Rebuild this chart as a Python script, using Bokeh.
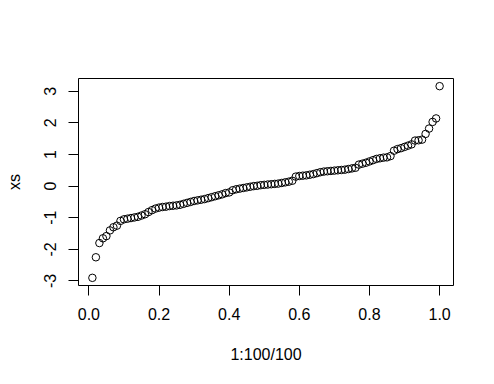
from bokeh.plotting import figure
from bokeh.models import Range1d, FixedTicker
from bokeh.embed import file_html
from bokeh.resources import INLINE

n = list(range(1, 101))
x_vals = [i / 100 for i in n]
xs = [-2.90, -2.25, -1.80, -1.65, -1.58, -1.40, -1.30, -1.25, -1.10, -1.05,
      -1.03, -1.01, -0.99, -0.97, -0.93, -0.89, -0.82, -0.76, -0.71, -0.68,
      -0.66, -0.65, -0.63, -0.62, -0.61, -0.59, -0.56, -0.53, -0.50, -0.47,
      -0.45, -0.43, -0.41, -0.38, -0.35, -0.32, -0.29, -0.26, -0.22, -0.20,
      -0.13, -0.10, -0.08, -0.06, -0.04, -0.02, 0.00, 0.01, 0.03, 0.04,
      0.05, 0.06, 0.07, 0.08, 0.10, 0.12, 0.14, 0.17, 0.30, 0.32,
      0.33, 0.34, 0.36, 0.38, 0.41, 0.44, 0.46, 0.47, 0.48, 0.49,
      0.50, 0.51, 0.52, 0.54, 0.56, 0.58, 0.68, 0.71, 0.74, 0.78,
      0.82, 0.86, 0.88, 0.90, 0.91, 0.95, 1.12, 1.17, 1.20, 1.24,
      1.28, 1.32, 1.44, 1.45, 1.47, 1.65, 1.82, 2.03, 2.14, 3.16]
x_ticks = [0.0, 0.2, 0.4, 0.6, 0.8, 1.0]
y_ticks = [-3, -2, -1, 0, 1, 2, 3]

def r_range(v):
    lo, hi = min(v), max(v)
    d = hi - lo
    return lo - 0.04 * d, hi + 0.04 * d

xr = r_range(x_vals)
yr = r_range(xs)

p = figure(width=478, height=368, output_backend="svg", toolbar_location=None,
           x_range=Range1d(*xr), y_range=Range1d(*yr),
           min_border_left=78, min_border_right=25, min_border_top=78, min_border_bottom=83)
p.background_fill_color = "white"
p.border_fill_color = "white"
p.outline_line_color = "black"
p.outline_line_width = 1
p.xgrid.visible = False
p.ygrid.visible = False

p.scatter(x_vals, xs, marker="circle", size=7.5, fill_color=None,
          line_color="black", line_width=1)

FONT = "Liberation Sans"
for ax in (p.xaxis[0], p.yaxis[0]):
    ax.axis_line_color = "black"
    ax.major_tick_line_color = "black"
    ax.minor_tick_line_color = None
    ax.major_tick_in = 0
    ax.major_tick_out = 10
    ax.major_label_text_font = FONT
    ax.major_label_text_font_size = "16px"
    ax.major_label_text_color = "black"
    ax.axis_label_text_font = FONT
    ax.axis_label_text_font_size = "16px"
    ax.axis_label_text_font_style = "normal"
    ax.axis_label_text_color = "black"

p.xaxis[0].ticker = FixedTicker(ticks=x_ticks)
p.xaxis[0].bounds = (x_ticks[0], x_ticks[-1])
p.xaxis[0].major_label_overrides = {t: f"{t:.1f}" for t in x_ticks}
p.xaxis[0].axis_label = "1:100/100"
p.xaxis[0].major_label_standoff = 12
p.xaxis[0].axis_label_standoff = 23

p.yaxis[0].ticker = FixedTicker(ticks=y_ticks)
p.yaxis[0].bounds = (y_ticks[0], y_ticks[-1])
p.yaxis[0].major_label_orientation = "vertical"
p.yaxis[0].major_label_overrides = {t: str(t) for t in y_ticks}
p.yaxis[0].axis_label = "xs"
p.yaxis[0].major_label_standoff = 12
p.yaxis[0].axis_label_standoff = 19

open("out.html", "w").write(file_html(p, INLINE))
